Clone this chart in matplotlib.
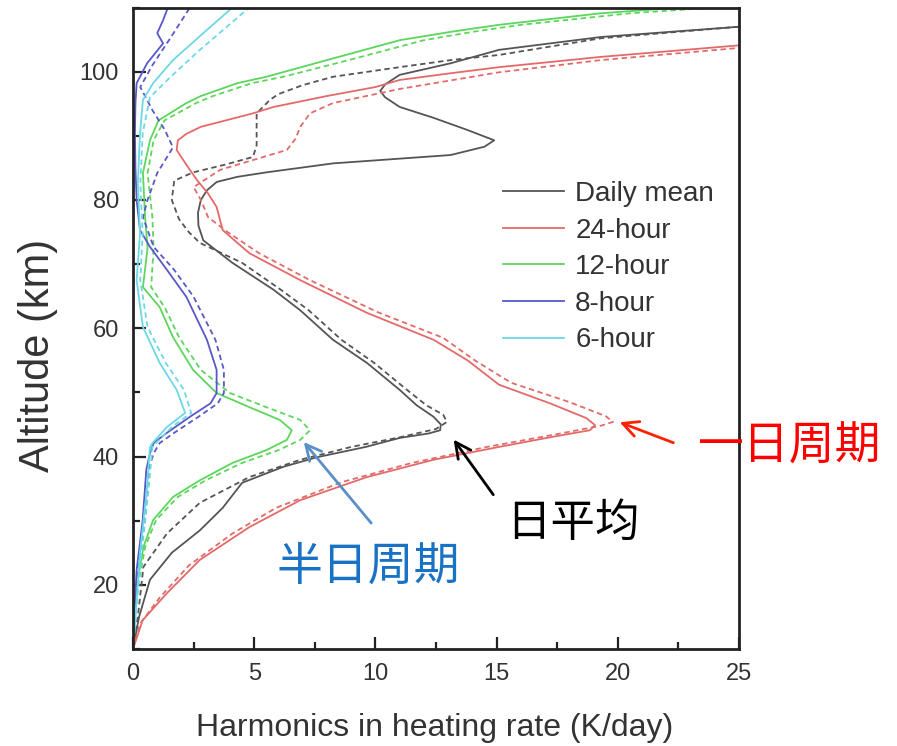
import matplotlib
matplotlib.use("Agg")
import matplotlib.pyplot as plt
from matplotlib.ticker import MultipleLocator

# altitude (km) / heating rate (K/day)
# solid = one run, dashed = the other run
MEAN_ALT = [10, 15, 20.8, 25, 28.5, 32, 35.9, 38.4, 39.9, 41.5, 42.9, 43.6, 44.1, 45, 46.2, 48,
            50.4, 54.6, 58.2, 62.8, 66, 70.2, 73.7, 76, 78, 80, 81.5, 82.8, 83.6, 84.3, 85.7, 87,
            88.3, 89.3, 90.9, 92.8, 94.5, 96, 97, 98, 99.5, 101.3, 103.4, 105.4, 107]
MEAN_X = [0, 0.25, 0.7, 1.6, 2.76, 3.7, 4.5, 6.2, 7.6, 9.6, 11.0, 12.2, 12.67, 12.7, 12.4, 11.7,
          11.0, 9.65, 8.25, 6.9, 5.8, 4.1, 2.9, 2.7, 2.68, 2.8, 3.05, 3.45, 4.3, 5.5, 8.25, 13.1,
          14.5, 14.9, 13.8, 12.4, 11.0, 10.4, 10.2, 10.4, 11.0, 13.1, 15.1, 19.3, 25]
MEAN_ALT_D = [10, 15, 22.8, 28, 32.8, 36.8, 39.5, 41.5, 43, 44.3, 45.4, 46.5, 48, 50.4, 54.6, 58.2,
              62.8, 66, 70.2, 73.3, 75, 77, 80, 83, 84.3, 85.5, 86.7, 88.5, 90.4, 93.5, 95.6, 96.5,
              97.9, 99.2, 100.7, 101.8, 102.6, 105.2, 107]
MEAN_X_D = [0, 0.2, 0.43, 1.4, 2.76, 4.8, 6.9, 9.0, 11.0, 12.5, 12.95, 12.8, 12.1, 11.3, 9.95, 8.6,
            7.25, 6.1, 4.5, 2.76, 2.3, 1.9, 1.6, 1.7, 2.48, 3.8, 4.95, 5.1, 5.1, 5.1, 5.65, 6.0,
            7.0, 8.25, 11.0, 13.1, 15.1, 19.3, 25]

H24_ALT = [10, 14.5, 18.7, 23.9, 29, 33.2, 36.8, 39.5, 41.5, 43, 44.1, 44.9, 46, 48.3, 51.2, 55,
           58.2, 62.4, 67.5, 71.7, 75.3, 78.9, 81, 83.1, 85.5, 87.8, 89.3, 90.3, 91.4, 93.5, 94.5,
           96.2, 97.6, 98.7, 99.7, 100.7, 102.3, 104.1]
H24_X = [0, 0.4, 1.4, 2.76, 4.8, 6.9, 9.65, 12.4, 15.1, 17.2, 18.85, 19.06, 18.7, 17.2, 15.1, 13.8,
         12.4, 9.65, 6.9, 4.8, 3.7, 3.45, 3.1, 2.64, 2.2, 1.8, 1.85, 2.2, 2.8, 4.95, 5.8,
         8.0, 10.0, 11.0, 13.0, 15.1, 19.3, 25]
H24_ALT_D = [10, 14, 18, 23, 28, 32, 36, 39, 41.5, 43.5, 44.8, 45.4, 46.3, 48.5, 51.5, 55, 58.5,
             62.5, 67.5, 71.7, 75, 77.3, 80, 82, 84.7, 86.5, 87.8, 89.5, 91.4, 93.5, 95.1, 97.3,
             99.9, 101.8, 103.7]
H24_X_D = [0, 0.3, 1.1, 2.3, 4.1, 5.9, 8.6, 11.5, 14.6, 17.5, 19.3, 19.8, 19.5, 18.0, 15.6, 14.1,
           12.8, 10.1, 7.3, 5.2, 3.9, 3.1, 2.8, 2.5, 3.6, 5.2, 6.35, 6.7, 6.9, 7.3, 8.25, 11.0,
           15.1, 19.3, 25]

H12_ALT = [10, 14, 19.7, 25.9, 30.1, 33.7, 36.3, 39, 41, 42.6, 44.1, 45.7, 47.7, 49.9, 53.5, 58.6,
           63.3, 66.4, 72.5, 77.3, 84.2, 89.3, 92.4, 95.1, 96.2, 98.2, 99.2, 101.8, 104.9, 106.2,
           107.3, 109.1, 110]
H12_X = [0, 0.05, 0.15, 0.43, 0.83, 1.65, 2.76, 4.1, 5.5, 6.35, 6.55, 6.06, 4.8, 3.45, 2.48, 1.65,
         1.1, 0.41, 0.6, 0.5, 0.41, 0.7, 1.05, 2.2, 2.8, 4.3, 5.5, 8.0, 11.0, 13.1, 15.1, 19.3, 22.6]
H12_X_D = [0, 0.05, 0.2, 0.5, 0.95, 1.85, 3.0, 4.5, 6.0, 6.9, 7.3, 6.9, 5.5, 4.0, 2.8, 1.9,
           1.3, 0.75, 0.85, 0.8, 0.6, 0.85, 1.3, 2.6, 3.3, 4.9, 6.2, 8.9, 12.0, 14.0, 16.0, 20.5, 24]

H8_ALT = [10, 15, 22.3, 30.1, 38, 40.5, 42.1, 43.7, 46.2, 48.3, 49.9, 53.5, 58.2, 64.9, 69.1,
          72.7, 75.3, 80, 85, 90.4, 95, 98.2, 101.3, 104.4, 106, 108, 110]
H8_X = [0, 0.05, 0.15, 0.4, 0.55, 0.7, 0.85, 1.4, 2.35, 3.2, 3.45, 3.45, 3.05, 2.2, 1.4,
        0.7, 0.29, 0.15, 0.1, 0.08, 0.1, 0.15, 0.58, 1.24, 1.0, 1.24, 1.44]
H8_ALT_D = [10, 15, 22.3, 30.1, 38, 40.5, 42.1, 43.7, 46.2, 48.3, 49.9, 53.5, 58.2, 64.9, 69.1,
            72.7, 77.3, 80, 84.2, 88.2, 91, 94, 97.6, 101, 105, 110]
H8_X_D = [0, 0.05, 0.2, 0.5, 0.65, 0.85, 1.1, 1.7, 2.7, 3.5, 3.75, 3.75, 3.4, 2.5, 1.7,
          0.85, 0.41, 0.6, 1.0, 1.65, 1.3, 0.8, 0.3, 0.8, 1.5, 2.35]

H6_ALT = [10, 15, 25, 35.2, 41.5, 42.1, 44.6, 46.8, 50.4, 54.6, 60.2, 67.5, 74.8, 82.6, 90.4,
          95.6, 98.2, 101.8, 106, 110]
H6_X = [0, 0.1, 0.29, 0.58, 0.7, 0.8, 1.4, 2.15, 1.8, 1.1, 0.41, 0.15, 0.29, 0.2, 0.29,
        0.41, 0.83, 1.65, 2.9, 4.1]
H6_ALT_D = [10, 15, 25, 35.2, 41.5, 42.1, 44.6, 46.8, 50.4, 54.6, 60.2, 67.5, 74.8, 82.6, 90.4,
            96, 99, 103.4, 110]
H6_X_D = [0, 0.1, 0.35, 0.65, 0.8, 0.95, 1.6, 2.4, 2.1, 1.35, 0.6, 0.3, 0.4, 0.3, 0.4,
          0.7, 1.5, 2.76, 4.8]

LABELS = ["Daily mean", "24-hour", "12-hour", "8-hour", "6-hour"]
COLORS = ["#555555", "#e46a6a", "#5cd65c", "#5858c8", "#6cd8e6"]

plt.rcParams["font.family"] = ["Liberation Sans", "DejaVu Sans"]
CJK = ["Noto Sans CJK SC", "DejaVu Sans"]

fig = plt.figure(figsize=(8.97, 7.46), dpi=100)
ax = fig.add_axes([133 / 897, 97 / 746, 606 / 897, 641.5 / 746])

solid = [(MEAN_X, MEAN_ALT), (H24_X, H24_ALT), (H12_X, H12_ALT), (H8_X, H8_ALT), (H6_X, H6_ALT)]
dashed = [(MEAN_X_D, MEAN_ALT_D), (H24_X_D, H24_ALT_D), (H12_X_D, H12_ALT),
          (H8_X_D, H8_ALT_D), (H6_X_D, H6_ALT_D)]

for (x, y), (xd, yd), c, lab in zip(solid, dashed, COLORS, LABELS):
    ax.plot(xd, yd, color=c, lw=1.3, dashes=(3, 2))
    ax.plot(x, y, color=c, lw=1.3, label=lab)

ax.set_xlim(0, 25)
ax.set_ylim(10, 110)
ax.xaxis.set_major_locator(MultipleLocator(5))
ax.xaxis.set_minor_locator(MultipleLocator(2.5))
ax.yaxis.set_major_locator(MultipleLocator(20))
ax.yaxis.set_minor_locator(MultipleLocator(10))
ax.tick_params(which="both", direction="in", width=1.6, color="#222222",
               labelsize=17, labelcolor="#333333")
ax.tick_params(which="major", length=9)
ax.tick_params(which="minor", length=5)
ax.tick_params(axis="x", pad=10)
ax.tick_params(axis="y", pad=10)
for s in ax.spines.values():
    s.set_linewidth(2)
    s.set_color("#222222")

ax.set_xlabel("Harmonics in heating rate (K/day)", fontsize=23, color="#333333", va="center")
ax.xaxis.set_label_coords(0.4975, -(728 - 649) / 641.5)
ax.set_ylabel("Altitude (km)", fontsize=30, color="#333333", va="center")
ax.yaxis.set_label_coords((38 - 133) / 606, (649 - 355) / 641.5)

ax.legend(loc="upper left", bbox_to_anchor=(503 / 897, (746 - 181) / 746),
          bbox_transform=fig.transFigure, frameon=False, fontsize=20,
          handlelength=2.2, handletextpad=0.4, labelspacing=0.38,
          borderpad=0, borderaxespad=0, labelcolor="#333333")

# annotations
ax.annotate("", xy=(19.97, 45.5), xytext=(22.4, 42.0), annotation_clip=False,
            arrowprops=dict(arrowstyle="->", color="#ff2200", lw=2, mutation_scale=28))
ax.text(27.1, 41.5, "一日周期", family=CJK, fontsize=33, color="#ff0000",
        ha="center", va="center", clip_on=False)

ax.annotate("", xy=(13.16, 43.0), xytext=(14.93, 33.7),
            arrowprops=dict(arrowstyle="->", color="black", lw=2, mutation_scale=28))
ax.text(18.15, 29.6, "日平均", family=CJK, fontsize=32, color="black",
        ha="center", va="center")

ax.annotate("", xy=(6.97, 42.6), xytext=(9.9, 29.3),
            arrowprops=dict(arrowstyle="->", color="#5b8fc9", lw=2, mutation_scale=28))
ax.text(9.7, 22.8, "半日周期", family=CJK, fontsize=33, color="#1a72c4",
        ha="center", va="center")

fig.savefig("out.png", dpi=100)
